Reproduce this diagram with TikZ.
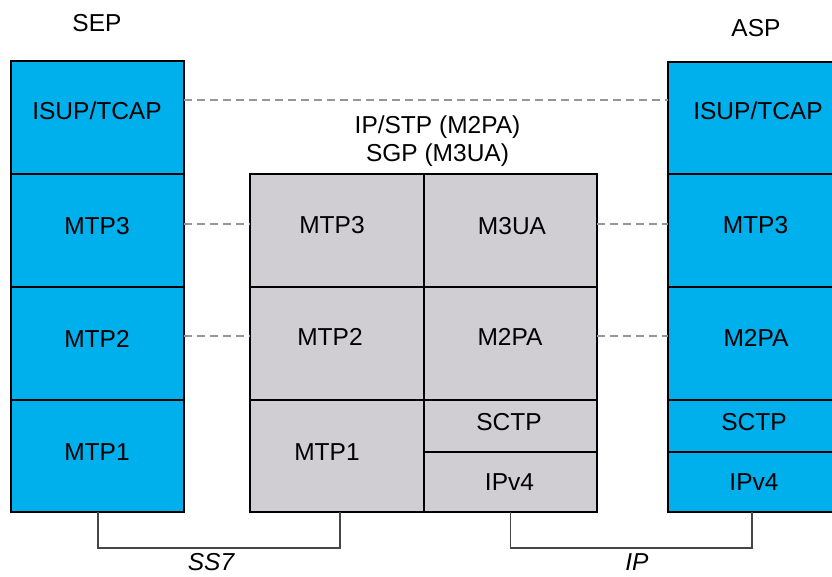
\documentclass[tikz,border=0pt]{standalone}
\usepackage{fontspec}
\setmainfont{Liberation Sans}
\definecolor{stackblue}{RGB}{0,176,236}
\definecolor{stackgray}{RGB}{209,206,211}
\definecolor{dashgray}{RGB}{150,150,150}
\definecolor{linkgray}{RGB}{70,70,70}
\tikzset{
  cell/.style={draw=black, line width=1.3pt, minimum width=#1, inner sep=0pt, outer sep=0pt},
  bluecell/.style={cell=#1, fill=stackblue},
  graycell/.style={cell=#1, fill=stackgray},
  lbl/.style={font=\fontsize{24.5}{26}\selectfont, text height=17.5pt, text depth=0pt, inner sep=0pt, text=black},
  peer/.style={draw=dashgray, line width=1.2pt, dash pattern=on 8pt off 5pt},
  bracket/.style={draw=linkgray, line width=1.5pt},
}
\begin{document}
\begin{tikzpicture}[x=1pt, y=-1pt]
\useasboundingbox (0,0) rectangle (832,576);

% SEP stack
\node[bluecell=173pt, minimum height=113pt] (sepIsup) at (97.5,117.5) {};
\node[bluecell=173pt, minimum height=113pt] (sepM3) at (97.5,230.5) {};
\node[bluecell=173pt, minimum height=113pt] (sepM2) at (97.5,343.5) {};
\node[bluecell=173pt, minimum height=112pt] (sepM1) at (97.5,456) {};

% Gateway: SS7 side
\node[graycell=174pt, minimum height=113pt] (gwM3) at (337,230.5) {};
\node[graycell=174pt, minimum height=113pt] (gwM2) at (337,343.5) {};
\node[graycell=174pt, minimum height=112pt] (gwM1) at (337,456) {};
% Gateway: IP side
\node[graycell=173pt, minimum height=113pt] (gwM3UA) at (510.5,230.5) {};
\node[graycell=173pt, minimum height=113pt] (gwM2PA) at (510.5,343.5) {};
\node[graycell=173pt, minimum height=52pt] (gwSctp) at (510.5,426) {};
\node[graycell=173pt, minimum height=60pt] (gwIp) at (510.5,482) {};

% ASP stack
\node[bluecell=168pt, minimum height=112pt] (aspIsup) at (752,118) {};
\node[bluecell=168pt, minimum height=113pt] (aspM3) at (752,230.5) {};
\node[bluecell=168pt, minimum height=113pt] (aspM2PA) at (752,343.5) {};
\node[bluecell=168pt, minimum height=52pt] (aspSctp) at (752,426) {};
\node[bluecell=168pt, minimum height=60pt] (aspIp) at (752,482) {};

% layer names
\node[lbl] (tSepIsup) at (97,111) {ISUP/TCAP};
\node[lbl] (tSepM3) at (97,226) {MTP3};
\node[lbl] (tSepM2) at (97,339) {MTP2};
\node[lbl] (tSepM1) at (97,452) {MTP1};
\node[lbl] (tGwM3) at (332,225) {MTP3};
\node[lbl] (tGwM2) at (330,337) {MTP2};
\node[lbl] (tGwM1) at (327,452) {MTP1};
\node[lbl] (tGwM3UA) at (512,226) {M3UA};
\node[lbl] (tGwM2PA) at (510,337) {M2PA};
\node[lbl] (tGwSctp) at (509,422) {SCTP};
\node[lbl] (tGwIp) at (509.5,482) {IPv4};
\node[lbl] (tAspIsup) at (758,111) {ISUP/TCAP};
\node[lbl] (tAspM3) at (755.5,225) {MTP3};
\node[lbl] (tAspM2PA) at (756,338) {M2PA};
\node[lbl] (tAspSctp) at (754,422) {SCTP};
\node[lbl] (tAspIp) at (754,482) {IPv4};

% titles
\node[lbl] (sepTitle) at (97,23) {SEP};
\node[lbl] (aspTitle) at (756,28) {ASP};
\node[lbl] (gwTitle1) at (437.5,125) {IP/STP (M2PA)};
\node[lbl] (gwTitle2) at (437.5,153) {SGP (M3UA)};

% peer-to-peer relations
\draw[peer] ([yshift=17.5pt]sepIsup.east) -- ([yshift=18pt]aspIsup.west);
\draw[peer] ([yshift=6.5pt]sepM3.east) -- ([yshift=6.5pt]gwM3.west);
\draw[peer] ([yshift=6.5pt]gwM3UA.east) -- ([yshift=6.5pt]aspM3.west);
\draw[peer] ([yshift=7.5pt]sepM2.east) -- ([yshift=7.5pt]gwM2.west);
\draw[peer] ([yshift=7.5pt]gwM2PA.east) -- ([yshift=7.5pt]aspM2PA.west);

% physical links
\coordinate (ss7Mid) at (219,548);
\coordinate (ipMid) at (631,548);
\draw[bracket] ([xshift=0.5pt]sepM1.south) |- (ss7Mid) -| ([xshift=3pt]gwM1.south);
\draw[bracket] (gwIp.south) |- (ipMid) -| (aspIp.south);
\node[lbl, font=\fontsize{24.5}{26}\selectfont\itshape] (ss7Label) at (211,562) {SS7};
\node[lbl, font=\fontsize{24.5}{26}\selectfont\itshape] (ipLabel) at (637,562) {IP};
\end{tikzpicture}
\end{document}
